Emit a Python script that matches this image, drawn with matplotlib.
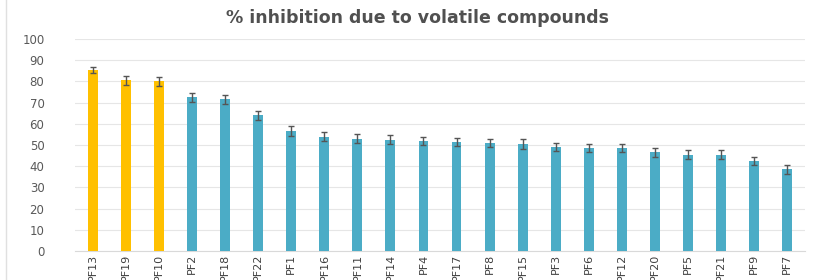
import matplotlib
matplotlib.use("Agg")
import matplotlib.pyplot as plt
import numpy as np

categories = ["PF13", "PF19", "PF10", "PF2", "PF18", "PF22", "PF1", "PF16", "PF11", "PF14", "PF4",
              "PF17", "PF8", "PF15", "PF3", "PF6", "PF12", "PF20", "PF5", "PF21", "PF9", "PF7"]
values = [85.5, 80.5, 80.0, 72.5, 71.5, 64.0, 56.5, 54.0, 53.0, 52.5, 52.0,
          51.5, 51.0, 50.5, 49.0, 48.5, 48.5, 46.5, 45.5, 45.5, 42.5, 38.5]
errors = [1.5, 2.0, 2.0, 2.0, 2.0, 2.0, 2.3, 2.0, 2.0, 2.0, 2.0,
          2.0, 2.0, 2.3, 1.8, 1.8, 1.8, 2.0, 2.3, 2.0, 2.0, 2.3]
highlight_count = 3
yticks = [0, 10, 20, 30, 40, 50, 60, 70, 80, 90, 100]

gold = "#FFC000"
teal = "#4BACC6"
colors = [gold if i < highlight_count else teal for i in range(len(categories))]

fig = plt.figure(figsize=(8.19, 2.8), dpi=100)
ax = fig.add_axes([75/819, 29/280, 730/819, 212/280])
x = np.arange(len(categories))
ax.bar(x, values, width=0.3, color=colors, yerr=errors,
       error_kw=dict(ecolor="#555555", elinewidth=1.0, capsize=2.5, capthick=1.0), zorder=3)

ax.set_ylim(0, 100)
ax.set_xlim(-0.55, len(categories) - 0.45)
ax.set_yticks(yticks)
ax.yaxis.grid(True, color="#E6E6E6", linewidth=0.8, zorder=0)
ax.set_axisbelow(True)
for s in ["top", "right", "left"]:
    ax.spines[s].set_visible(False)
ax.spines["bottom"].set_color("#D9D9D9")
ax.tick_params(axis="y", length=0, pad=22, labelsize=8.5, labelcolor="#595959")
ax.tick_params(axis="x", length=0, pad=2)
ax.set_xticks(x)
ax.set_xticklabels(categories, rotation=90, fontsize=8,
                   family=["Liberation Sans Narrow", "DejaVu Sans"], color="#3F3F3F")

# light frame line at left edge of the chart area
fig.add_artist(plt.Line2D([6/819, 6/819], [0, 1], transform=fig.transFigure,
                          color="#E0E0E0", linewidth=1.0))

fig.text(0.51, 0.935, "% inhibition due to volatile compounds", ha="center", va="center",
         fontsize=12.5, fontweight="bold", color="#505050", family="DejaVu Sans")

fig.savefig("out.png", dpi=100)
